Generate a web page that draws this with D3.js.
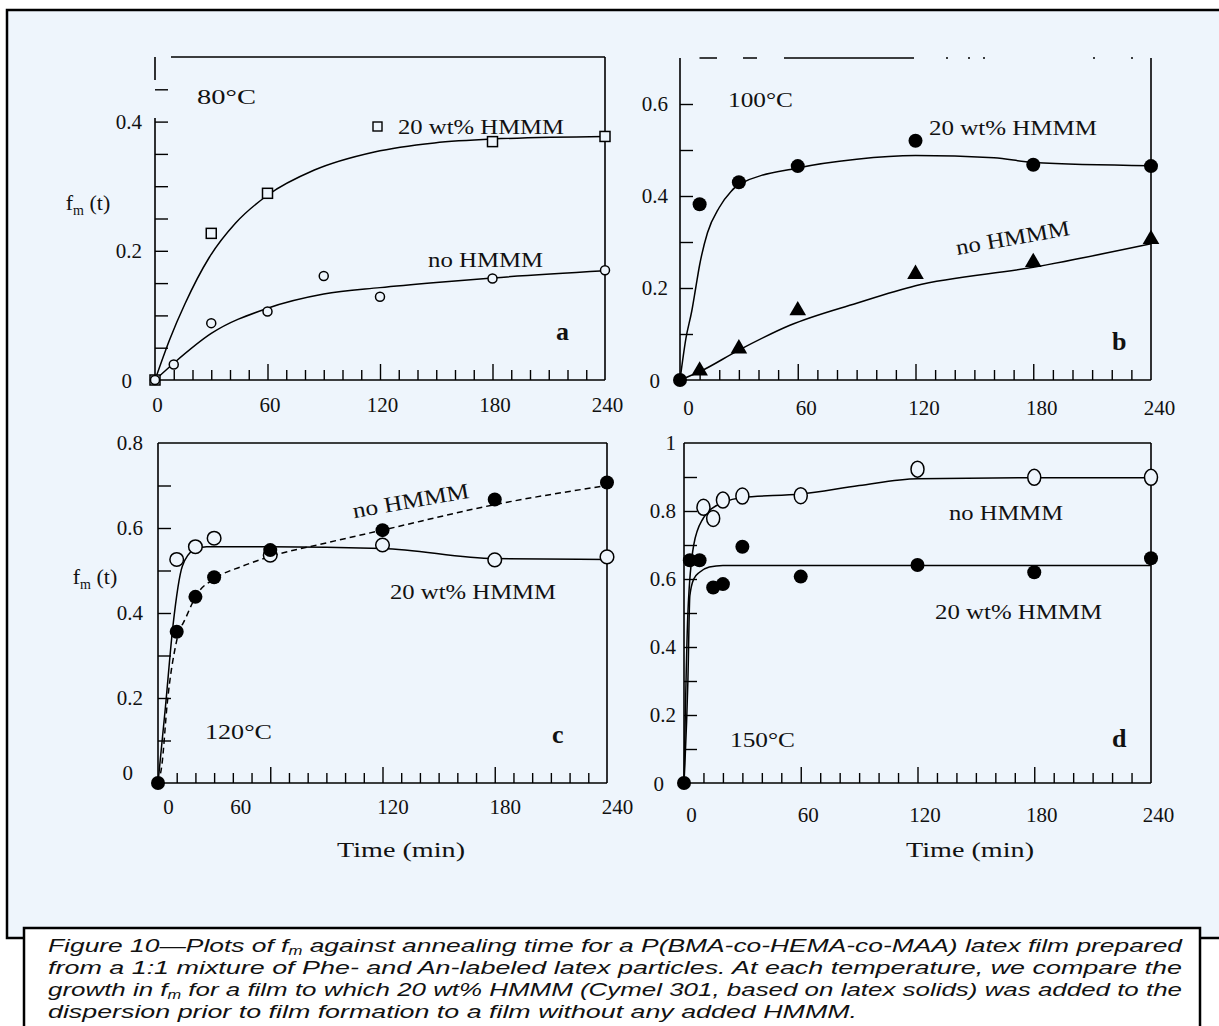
<!DOCTYPE html>
<html>
<head>
<meta charset="UTF-8">
<title>Figure 10 - fm against annealing time</title>
<script src="https://cdn.jsdelivr.net/npm/d3@7"></script>
<style>
body { margin: 0; background: #fff; }
svg text { font-family: "Liberation Serif", "Times New Roman", serif; fill: #111; }
.tick text { font-size: 21px; }
.cap text { font-family: "Liberation Sans", Arial, sans-serif; font-style: italic; font-size: 19px; fill: #111; }
</style>
</head>
<body>
<script>
// ---------- data: [time (min), f_m] ----------
var xTicks = [0, 60, 120, 180, 240];

// a : 80 C
var a_hmmm    = [[0,0],[30,0.227],[60,0.289],[180,0.369],[240,0.377]];
var a_hmmmFit = [[0,0],[8,0.064],[16,0.118],[29,0.19],[43,0.243],[60,0.286],[85,0.325],[117,0.353],[149,0.367],[180,0.373],[240,0.377]];
var a_no      = [[0,0],[10,0.024],[30,0.088],[60,0.106],[90,0.161],[120,0.129],[180,0.157],[240,0.170]];
var a_noFit   = [[0,0],[10,0.026],[30,0.072],[60,0.111],[90,0.133],[120,0.143],[150,0.151],[180,0.158],[240,0.169]];
var a_yTicks  = [0, 0.2, 0.4];

// b : 100 C
var b_hmmm    = [[0,0],[10,0.382],[30,0.43],[60,0.465],[120,0.52],[180,0.468],[240,0.465]];
var b_hmmmFit = [[0,0],[3,0.09],[6,0.15],[8,0.2],[10,0.25],[14,0.32],[20,0.375],[26,0.41],[30,0.425],[60,0.461],[90,0.48],[120,0.488],[160,0.483],[180,0.473],[240,0.466]];
var b_no      = [[10,0.02],[30,0.068],[60,0.151],[120,0.23],[180,0.256],[240,0.306]];
var b_noFit   = [[0,0],[10,0.018],[30,0.065],[56,0.119],[90,0.167],[120,0.205],[180,0.245],[240,0.296]];
var b_yTicks  = [0, 0.2, 0.4, 0.6];

// c : 120 C
var c_hmmm    = [[10,0.526],[20,0.556],[30,0.576],[60,0.536],[120,0.56],[180,0.525],[240,0.532]];
var c_hmmmFit = [[0,0],[4,0.18],[8,0.37],[13,0.51],[19,0.548],[26,0.556],[60,0.556],[120,0.552],[180,0.528],[240,0.526]];
var c_no      = [[0,0],[10,0.356],[20,0.438],[30,0.484],[60,0.548],[120,0.595],[180,0.667],[240,0.707]];
var c_noFit   = [[0,0],[2,0.04],[5,0.19],[10,0.335],[15,0.39],[21,0.445],[30,0.48],[45,0.51],[60,0.533],[90,0.565],[120,0.595],[180,0.655],[240,0.70]];
var c_yTicks  = [0, 0.2, 0.4, 0.6, 0.8];

// d : 150 C
var d_no      = [[10,0.811],[15,0.778],[20,0.832],[30,0.844],[60,0.845],[120,0.923],[180,0.899],[240,0.899]];
var d_noFit   = [[0,0],[2,0.5],[5,0.7],[10,0.78],[15,0.81],[20,0.825],[30,0.84],[60,0.85],[90,0.875],[120,0.895],[180,0.898],[240,0.898]];
var d_hmmm    = [[0,0],[3,0.655],[8,0.655],[15,0.575],[20,0.585],[30,0.695],[60,0.607],[120,0.641],[180,0.62],[240,0.661]];
var d_hmmmFit = [[0,0],[2,0.3],[3,0.55],[5,0.6],[8,0.62],[13,0.635],[20,0.64],[240,0.64]];
var d_yTicks  = [0, 0.2, 0.4, 0.6, 0.8, 1];

var caption = [
  [["Figure 10\u2014Plots of f"], ["m", 1], [" against annealing time for a P(BMA-co-HEMA-co-MAA) latex film prepared"]],
  [["from a 1:1 mixture of Phe- and An-labeled latex particles. At each temperature, we compare the"]],
  [["growth in f"], ["m", 1], [" for a film to which 20 wt% HMMM (Cymel 301, based on latex solids) was added to the"]],
  [["dispersion prior to film formation to a film without any added HMMM."]]
];

// ---------- layout ----------
var W = 1219, H = 1026, bg = "#eef5fc";

var svg = d3.select("body").append("svg")
  .attr("width", W).attr("height", H);

svg.append("rect").attr("x", 7).attr("y", 10).attr("width", W + 20).attr("height", 928)
  .attr("fill", bg).attr("stroke", "#000").attr("stroke-width", 2.5);

var panels = [
  { x0:155, x1:605, yb:380, yt:57, ymax:0.5, yTicks:a_yTicks, yMinor:d3.range(0.05, 0.46, 0.05),
    xPad:17, yPad:13, zeroDx:-10, zeroDy:0, xNudge:{}, xDx:2,
    topDash:"0,16,434", leftDash:"262,38,23",
    series:[
      { fit:a_hmmmFit, pts:a_hmmm, mark:"square" },
      { fit:a_noFit, pts:a_no, mark:"smallCircle" }
    ],
    labels:[
      { t:"80\u00b0C", x:197, y:104, w:59 },
      { t:"20 wt% HMMM", x:398, y:134, w:166 },
      { t:"no HMMM", x:428, y:267, w:115 },
      { t:"a", x:556, y:340, bold:true }
    ],
    legendSquare:[373, 122],
    yTitle:[88, 203]
  },
  { x0:680, x1:1151, yb:380, yt:58, ymax:0.7, yTicks:b_yTicks, yMinor:d3.range(0.1, 0.65, 0.1),
    xPad:20, yPad:12, zeroDx:-8, zeroDy:0, xNudge:{}, xDx:8,
    topDash:"0,19.5,17.5,26,14,27,130,32,2,20,2,13,2,108,2,36,2,40", leftDash:null,
    series:[
      { fit:b_hmmmFit, pts:b_hmmm, mark:"dot" },
      { fit:b_noFit, pts:b_no, mark:"triangle" }
    ],
    labels:[
      { t:"100\u00b0C", x:728, y:107, w:65 },
      { t:"20 wt% HMMM", x:929, y:135, w:168 },
      { t:"no HMMM", x:1014, y:245, w:115, rot:-10, mid:true },
      { t:"b", x:1112, y:350, bold:true }
    ]
  },
  { x0:158, x1:607, yb:783, yt:443, ymax:0.8, yTicks:c_yTicks, yMinor:d3.range(0.1, 0.75, 0.1),
    xPad:16, yPad:15, zeroDx:-10, zeroDy:-11, xNudge:{60:-40}, xDx:10,
    topDash:null, leftDash:null,
    series:[
      { fit:c_hmmmFit, pts:c_hmmm, mark:"circle" },
      { fit:c_noFit, pts:c_no, mark:"dot", dash:"6,4" }
    ],
    labels:[
      { t:"no HMMM", x:412, y:508, w:118, rot:-10, mid:true },
      { t:"20 wt% HMMM", x:390, y:599, w:166 },
      { t:"120\u00b0C", x:205, y:739, w:67 },
      { t:"c", x:552, y:743, bold:true }
    ],
    yTitle:[95, 577],
    xTitle:[401, 850]
  },
  { x0:684, x1:1151, yb:783, yt:443, ymax:1, yTicks:d_yTicks, yMinor:d3.range(0.1, 0.95, 0.1),
    xPad:24, yPad:8, zeroDx:-12, zeroDy:0, xNudge:{}, xDx:7,
    topDash:null, leftDash:null,
    series:[
      { fit:d_noFit, pts:d_no, mark:"ellipse" },
      { fit:d_hmmmFit, pts:d_hmmm, mark:"dot" }
    ],
    labels:[
      { t:"no HMMM", x:949, y:520, w:114 },
      { t:"20 wt% HMMM", x:935, y:619, w:167 },
      { t:"150\u00b0C", x:730, y:747, w:65 },
      { t:"d", x:1112, y:747, bold:true }
    ],
    xTitle:[970, 850]
  }
];

function fmt(v) { return v === 0 ? "0" : String(+v.toFixed(2)); }

function addLabel(g, o) {
  var t = g.append("text")
    .attr("transform", "translate(" + o.x + "," + o.y + ") rotate(" + (o.rot || 0) + ")")
    .attr("text-anchor", o.mid ? "middle" : "start")
    .style("font-size", o.bold ? "26px" : "22px")
    .text(o.t);
  if (o.bold) t.style("font-weight", "bold");
  if (o.w) t.attr("textLength", o.w).attr("lengthAdjust", "spacingAndGlyphs");
}

function drawPanel(p) {
  var x = d3.scaleLinear().domain([0, 240]).range([p.x0, p.x1]);
  var y = d3.scaleLinear().domain([0, p.ymax]).range([p.yb, p.yt]);
  var g = svg.append("g");

  function clean(sel) {
    sel.attr("font-size", null).attr("font-family", null);
    sel.select(".domain").remove();
    sel.selectAll(".tick line").attr("stroke", "#000").attr("stroke-width", 1.4);
  }

  // x ticks: minor every 10 min, major at 60/120/180, pointing inwards
  g.append("g").attr("transform", "translate(0," + p.yb + ")")
    .call(d3.axisBottom(x).tickValues(d3.range(10, 240, 10).filter(function (v) { return v % 60; }))
      .tickSize(-10).tickFormat(""))
    .call(clean);
  g.append("g").attr("transform", "translate(0," + p.yb + ")")
    .call(d3.axisBottom(x).tickValues([60, 120, 180]).tickSize(-16).tickFormat(""))
    .call(clean);
  g.append("g").attr("transform", "translate(0," + p.yb + ")")
    .call(d3.axisBottom(x).tickValues(xTicks).tickSize(0).tickPadding(p.xPad).tickFormat(fmt))
    .call(clean)
    .selectAll(".tick text").attr("dx", function (d) { return p.xDx + (p.xNudge[d] || 0); });

  // y ticks
  g.append("g").attr("transform", "translate(" + p.x0 + ",0)")
    .call(d3.axisLeft(y).tickValues(p.yMinor).tickSize(-13).tickFormat(""))
    .call(clean);
  g.append("g").attr("transform", "translate(" + p.x0 + ",0)")
    .call(d3.axisLeft(y).tickValues(p.yTicks).tickSize(0).tickPadding(p.yPad).tickFormat(fmt))
    .call(clean)
    .selectAll(".tick text")
      .attr("dx", function (d) { return d === 0 ? p.zeroDx : 0; })
      .attr("dy", function (d) { return d === 0 ? (p.zeroDy + 7) + "px" : "0.32em"; });

  // frame
  var fr = g.append("g").attr("stroke", "#000").attr("stroke-width", 1.6).attr("fill", "none");
  fr.append("line").attr("x1", p.x0).attr("x2", p.x1).attr("y1", p.yb).attr("y2", p.yb);
  fr.append("line").attr("x1", p.x1).attr("x2", p.x1).attr("y1", p.yb).attr("y2", p.yt);
  fr.append("line").attr("x1", p.x0).attr("x2", p.x0).attr("y1", p.yb).attr("y2", p.yt)
    .attr("stroke-dasharray", p.leftDash);
  fr.append("line").attr("x1", p.x0).attr("x2", p.x1).attr("y1", p.yt).attr("y2", p.yt)
    .attr("stroke-dasharray", p.topDash);

  var line = d3.line()
    .x(function (d) { return x(d[0]); })
    .y(function (d) { return y(d[1]); })
    .curve(d3.curveMonotoneX);

  p.series.forEach(function (s) {
    g.append("path").datum(s.fit)
      .attr("d", line).attr("fill", "none").attr("stroke", "#000")
      .attr("stroke-width", 1.5).attr("stroke-dasharray", s.dash || null);
  });

  p.series.forEach(function (s) {
    var m = g.append("g").selectAll("g").data(s.pts).enter().append("g")
      .attr("transform", function (d) { return "translate(" + x(d[0]) + "," + y(d[1]) + ")"; });
    if (s.mark === "square") {
      m.append("rect").attr("x", -5).attr("y", -5).attr("width", 10).attr("height", 10)
        .attr("fill", bg).attr("stroke", "#000").attr("stroke-width", 1.5);
    } else if (s.mark === "smallCircle") {
      m.append("circle").attr("r", 4.5).attr("fill", bg).attr("stroke", "#000").attr("stroke-width", 1.5);
    } else if (s.mark === "circle") {
      m.append("circle").attr("r", 6.8).attr("fill", bg).attr("stroke", "#000").attr("stroke-width", 1.5);
    } else if (s.mark === "ellipse") {
      m.append("ellipse").attr("rx", 6.5).attr("ry", 8).attr("fill", bg).attr("stroke", "#000").attr("stroke-width", 1.5);
    } else if (s.mark === "dot") {
      m.append("circle").attr("r", 7).attr("fill", "#000");
    } else if (s.mark === "triangle") {
      m.append("path").attr("d", d3.symbol(d3.symbolTriangle, 120)).attr("fill", "#000");
    }
  });

  if (p.legendSquare) {
    g.append("rect").attr("x", p.legendSquare[0]).attr("y", p.legendSquare[1])
      .attr("width", 9).attr("height", 9).attr("fill", "none")
      .attr("stroke", "#000").attr("stroke-width", 1.4);
  }

  p.labels.forEach(function (o) { addLabel(g, o); });

  if (p.yTitle) {
    var yt = g.append("text").attr("x", p.yTitle[0]).attr("y", p.yTitle[1] + 7)
      .attr("text-anchor", "middle").style("font-size", "22px");
    yt.append("tspan").text("f");
    yt.append("tspan").attr("dy", 5).style("font-size", "14px").text("m");
    yt.append("tspan").attr("dy", -5).text(" (t)");
  }
  if (p.xTitle) {
    g.append("text").attr("x", p.xTitle[0] - 64).attr("y", p.xTitle[1] + 7)
      .style("font-size", "22px")
      .attr("textLength", 128).attr("lengthAdjust", "spacingAndGlyphs")
      .text("Time (min)");
  }
}

panels.forEach(drawPanel);

// ---------- caption box ----------
var cap = svg.append("g").attr("class", "cap");
cap.append("rect").attr("x", 24).attr("y", 928).attr("width", 1176).attr("height", 120)
  .attr("fill", "#fff").attr("stroke", "#000").attr("stroke-width", 2.5);

var capWidths = [1134, 1134, 1134, 809];
caption.forEach(function (parts, i) {
  var t = cap.append("text").attr("x", 48).attr("y", 952 + i * 22);
  parts.forEach(function (pt, j) {
    var ts = t.append("tspan").text(pt[0]);
    if (pt[1]) ts.attr("dy", 3).style("font-size", "12px");
    else if (j > 0 && parts[j - 1][1]) ts.attr("dy", -3);
  });
  t.attr("textLength", capWidths[i]).attr("lengthAdjust", "spacingAndGlyphs");
});
</script>
</body>
</html>
